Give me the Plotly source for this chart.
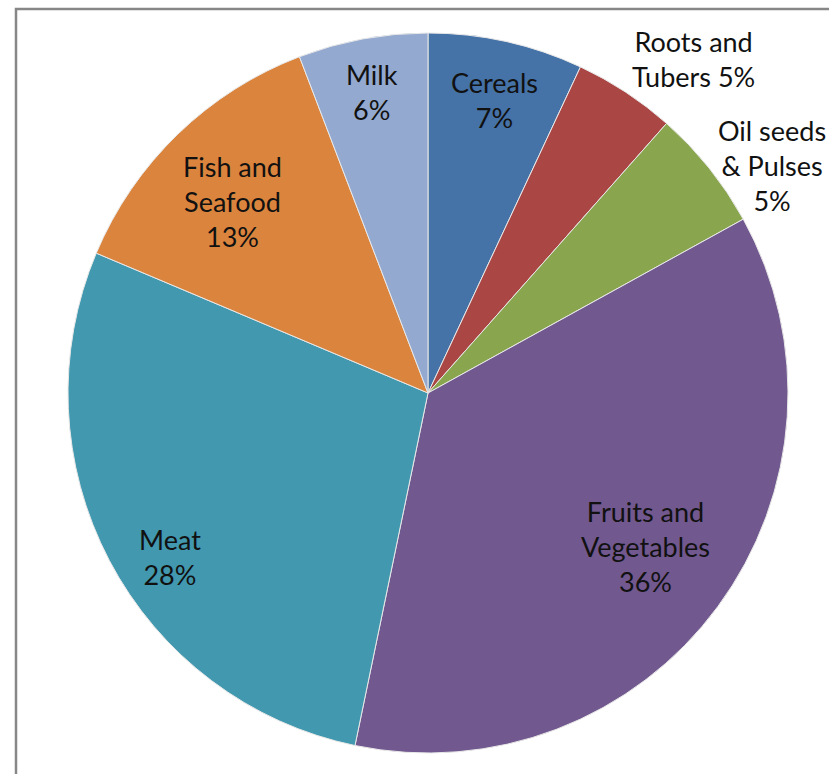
import plotly.graph_objects as go

# Data
categories = ["Cereals", "Roots and Tubers", "Oil seeds & Pulses", "Fruits and Vegetables",
              "Meat", "Fish and Seafood", "Milk"]
values = [6.96, 4.57, 5.45, 36.27, 28.10, 12.84, 5.81]
colors = ["#4572A7", "#AA4643", "#89A54E", "#71588F", "#4198AF", "#DB843D", "#93A9CF"]

# Label line-breaking (display text) and label placement (pixels in 829x774 frame)
label_lines = ["Cereals<br>{p}", "Roots and<br>Tubers {p}", "Oil seeds<br>& Pulses<br>{p}",
               "Fruits and<br>Vegetables<br>{p}", "Meat<br>{p}", "Fish and<br>Seafood<br>{p}",
               "Milk<br>{p}"]
label_px = [(494, 100), (693, 59), (772, 166), (645, 546), (170, 557), (232, 202), (372, 92)]

W, H = 829, 774
total = sum(values)

fig = go.Figure()
fig.add_trace(go.Pie(
    labels=categories,
    values=values,
    sort=False,
    direction="clockwise",
    rotation=0,
    marker=dict(colors=colors, line=dict(color="#e8e8e8", width=1)),
    textinfo="none",
    hoverinfo="label+percent",
    showlegend=False,
    domain=dict(x=[68 / W, 788 / W], y=[1 - 753 / H, 1 - 33 / H]),
))

for txt, v, (px, py) in zip(label_lines, values, label_px):
    pct = f"{round(v / total * 100):d}%"
    fig.add_annotation(
        x=px / W, y=1 - py / H, xref="paper", yref="paper",
        text=txt.format(p=pct), showarrow=False,
        font=dict(family="Lato", size=27, color="#111111"),
        align="center", xanchor="center", yanchor="middle",
    )

fig.add_shape(type="rect", xref="paper", yref="paper",
              x0=16 / W, x1=1.05, y0=-0.05, y1=1 - 9 / H,
              line=dict(color="#878787", width=2.5), fillcolor="rgba(0,0,0,0)")

fig.update_layout(
    width=W, height=H,
    margin=dict(l=0, r=0, t=0, b=0),
    paper_bgcolor="white",
    plot_bgcolor="white",
)

fig.write_html("out.html",
               config={"displayModeBar": False},
               post_script="document.body.style.margin='0';document.body.style.overflow='hidden';")
